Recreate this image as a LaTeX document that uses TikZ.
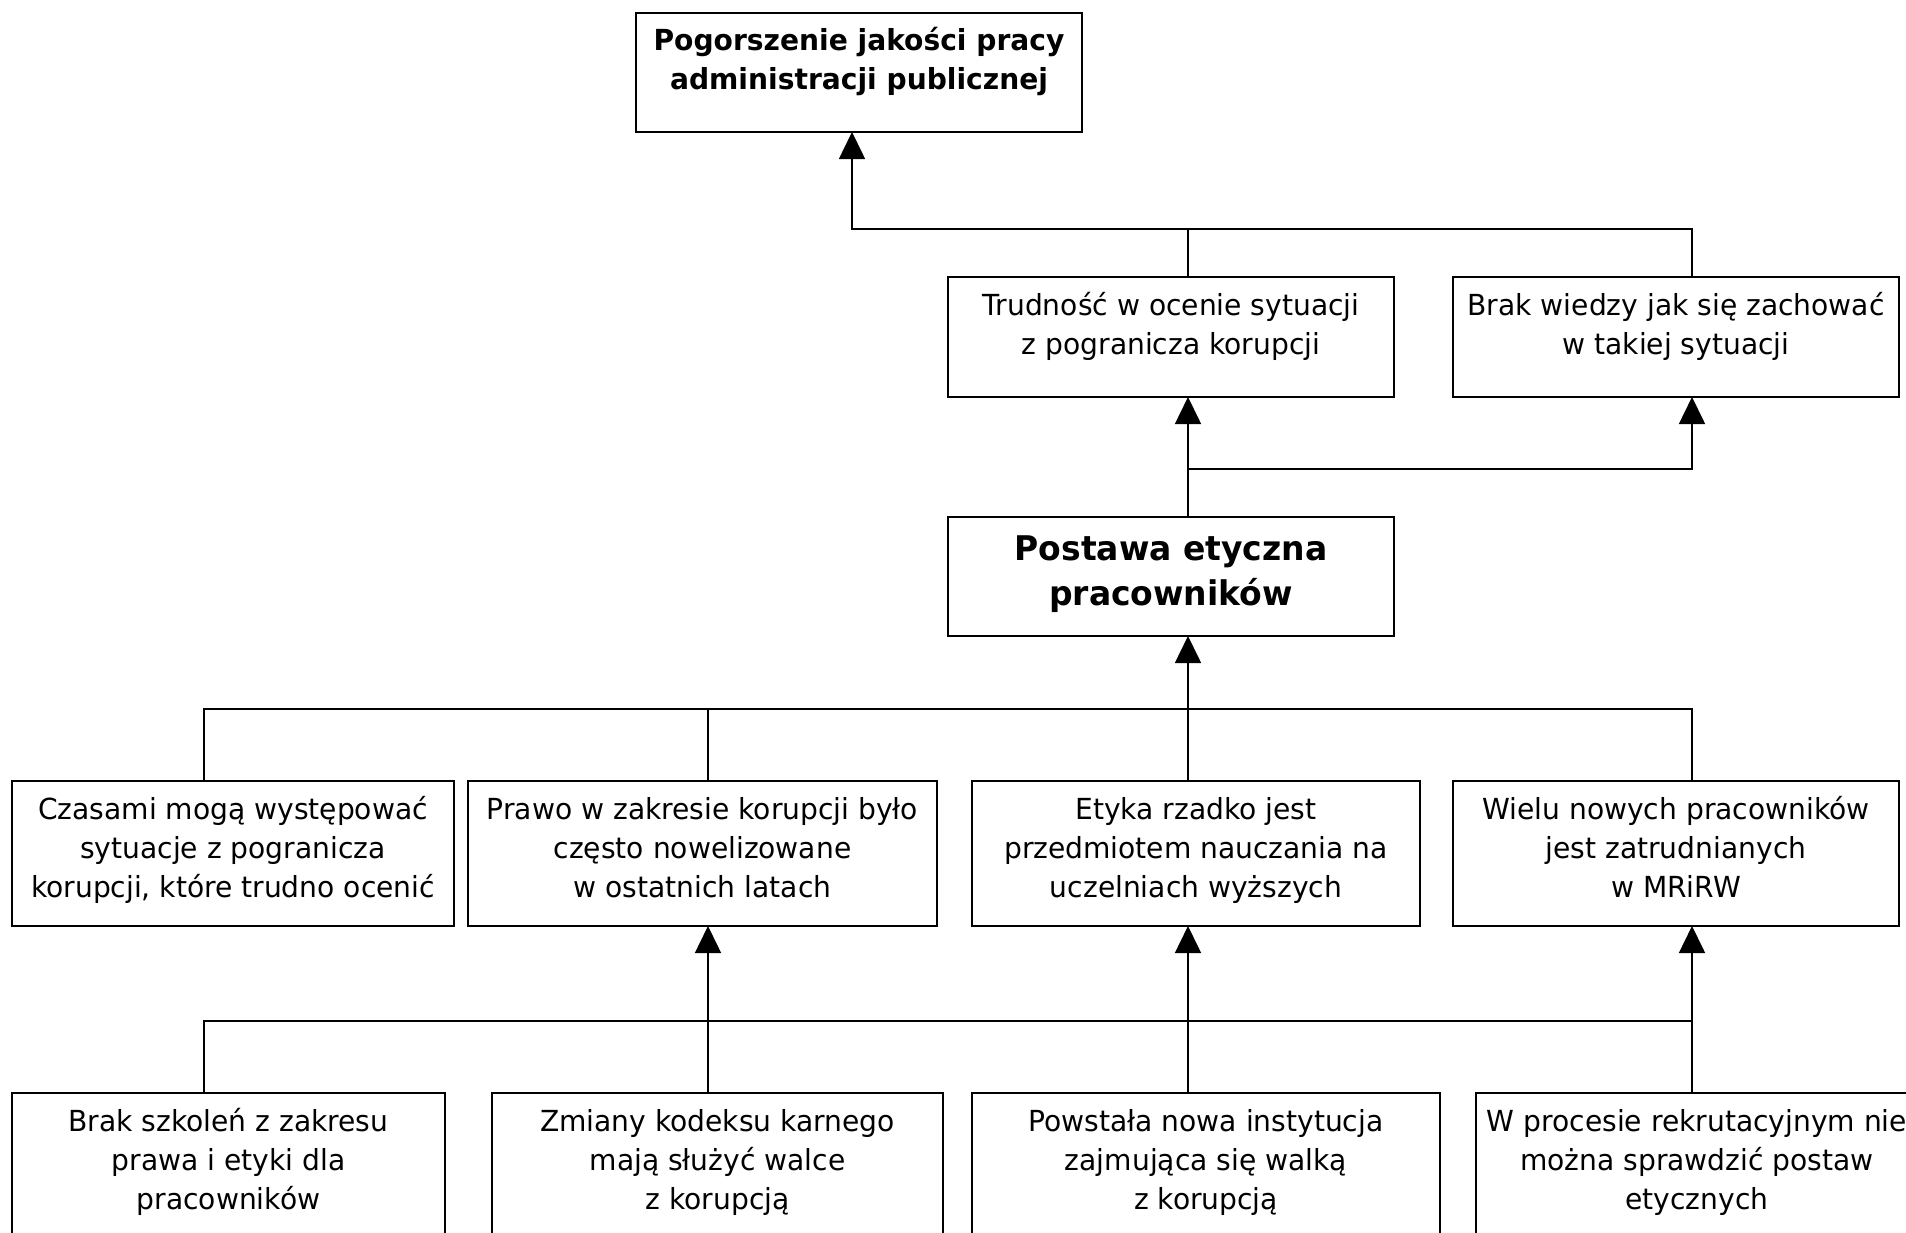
\documentclass[tikz,border=0pt]{standalone}
\usepackage{fontspec}
\setmainfont{DejaVu Sans}[FakeStretch=0.97]
\usetikzlibrary{arrows.meta,calc}

% strut that fixes the height of a first text line
\newcommand\firstln{\rule{0pt}{13pt}}
\newcommand\firstlnbig{\rule{0pt}{13.5pt}}

\begin{document}
\begin{tikzpicture}[
  x=0.5pt, y=-0.5pt,
  box/.style={draw, line width=0.8pt, rectangle, inner sep=0pt, outer sep=0pt, anchor=north west},
  txt/.style={anchor=north, inner sep=0pt, align=center, font=\fontsize{14.5pt}{19.5pt}\selectfont},
  txtbold/.style={txt, font=\fontsize{14.5pt}{19.5pt}\selectfont\bfseries},
  txtbig/.style={txt, font=\fontsize{17pt}{22.5pt}\selectfont\bfseries},
  link/.style={draw, line width=0.8pt, line join=miter},
  arr/.style={link, -{Triangle[length=13.5pt, width=13pt]}},
]
\useasboundingbox (0,0) rectangle (1906,1232);
\fill[white] (0,0) rectangle (1906,1232);
\clip (0,0) rectangle (1906,1232);

% boxes (sizes in pt, one unit of the grid being half a point)
\node[box, minimum width=223pt,   minimum height=59.5pt] (t)  at (636,13)   {};
\node[box, minimum width=223pt,   minimum height=60pt]   (a)  at (948,277)  {};
\node[box, minimum width=223pt,   minimum height=60pt]   (b)  at (1453,277) {};
\node[box, minimum width=223pt,   minimum height=59.5pt] (p)  at (948,517)  {};
\node[box, minimum width=221pt,   minimum height=72.5pt] (c1) at (12,781)   {};
\node[box, minimum width=234.5pt, minimum height=72.5pt] (c2) at (468,781)  {};
\node[box, minimum width=224pt,   minimum height=72.5pt] (c3) at (972,781)  {};
\node[box, minimum width=223pt,   minimum height=72.5pt] (c4) at (1453,781) {};
\node[box, minimum width=216.5pt, minimum height=75pt]   (d1) at (12,1093)  {};
\node[box, minimum width=225.5pt, minimum height=75pt]   (d2) at (492,1093) {};
\node[box, minimum width=234pt,   minimum height=75pt]   (d3) at (972,1093) {};
\node[box, minimum width=221pt,   minimum height=75pt]   (d4) at (1476,1093) {};

% texts
\node[txtbold] (tt) at ($(t.north)+(0,11)$) {\firstln Pogorszenie jakości pracy\\administracji publicznej};
\node[txt] (at) at ($(a.north)+(0,12)$) {\firstln Trudność w ocenie sytuacji\\z pogranicza korupcji};
\node[txt] (bt) at ($(b.north)+(0,12)$) {\firstln Brak wiedzy jak się zachować\\w takiej sytuacji};
\node[txtbig] (pt) at ($(p.north)+(0,16)$) {\firstlnbig Postawa etyczna\\pracowników};
\node[txt] (c1t) at ($(c1.north)+(0,12)$) {\firstln Czasami mogą występować\\sytuacje z pogranicza\\korupcji, które trudno ocenić};
\node[txt] (c2t) at ($(c2.north)+(0,12)$) {\firstln Prawo w zakresie korupcji było\\często nowelizowane\\w ostatnich latach};
\node[txt] (c3t) at ($(c3.north)+(0,12)$) {\firstln Etyka rzadko jest\\przedmiotem nauczania na\\uczelniach wyższych};
\node[txt] (c4t) at ($(c4.north)+(0,12)$) {\firstln Wielu nowych pracowników\\jest zatrudnianych\\w MRiRW};
\node[txt] (d1t) at ($(d1.north)+(0,12)$) {\firstln Brak szkoleń z zakresu\\prawa i etyki dla\\pracowników};
\node[txt] (d2t) at ($(d2.north)+(0,12)$) {\firstln Zmiany kodeksu karnego\\mają służyć walce\\z korupcją};
\node[txt] (d3t) at ($(d3.north)+(0,12)$) {\firstln Powstała nowa instytucja\\zajmująca się walką\\z korupcją};
\node[txt] (d4t) at ($(d4.north)+(0,12)$) {\firstln W procesie rekrutacyjnym nie\\można sprawdzić postaw\\etycznych};

% connector columns and bus levels
\coordinate (xt) at (852,0);
\coordinate (x1) at (204,0);
\coordinate (x2) at (708,0);
\coordinate (x3) at (1188,0);
\coordinate (x4) at (1692,0);
\coordinate (bus1) at (0,229);
\coordinate (bus2) at (0,469);
\coordinate (bus3) at (0,709);
\coordinate (bus4) at (0,1021);

% top level
\draw[arr] (a.north -| x3) -- (x3 |- bus1) -- (xt |- bus1) -- (t.south -| xt);
\draw[link] (b.north -| x4) -- (x4 |- bus1) -- (x3 |- bus1);

% from the central box upwards
\draw[arr] (p.north -| x3) -- (a.south -| x3);
\draw[arr] (x3 |- bus2) -- (x4 |- bus2) -- (b.south -| x4);

% middle row into the central box
\draw[link] (c1.north -| x1) -- (x1 |- bus3) -- (x4 |- bus3) -- (c4.north -| x4);
\draw[link] (c2.north -| x2) -- (x2 |- bus3);
\draw[arr] (c3.north -| x3) -- (p.south -| x3);

% bottom row into the middle row
\draw[link] (d1.north -| x1) -- (x1 |- bus4) -- (x4 |- bus4);
\draw[arr] (d2.north -| x2) -- (c2.south -| x2);
\draw[arr] (d3.north -| x3) -- (c3.south -| x3);
\draw[arr] (d4.north -| x4) -- (c4.south -| x4);
\end{tikzpicture}
\end{document}
